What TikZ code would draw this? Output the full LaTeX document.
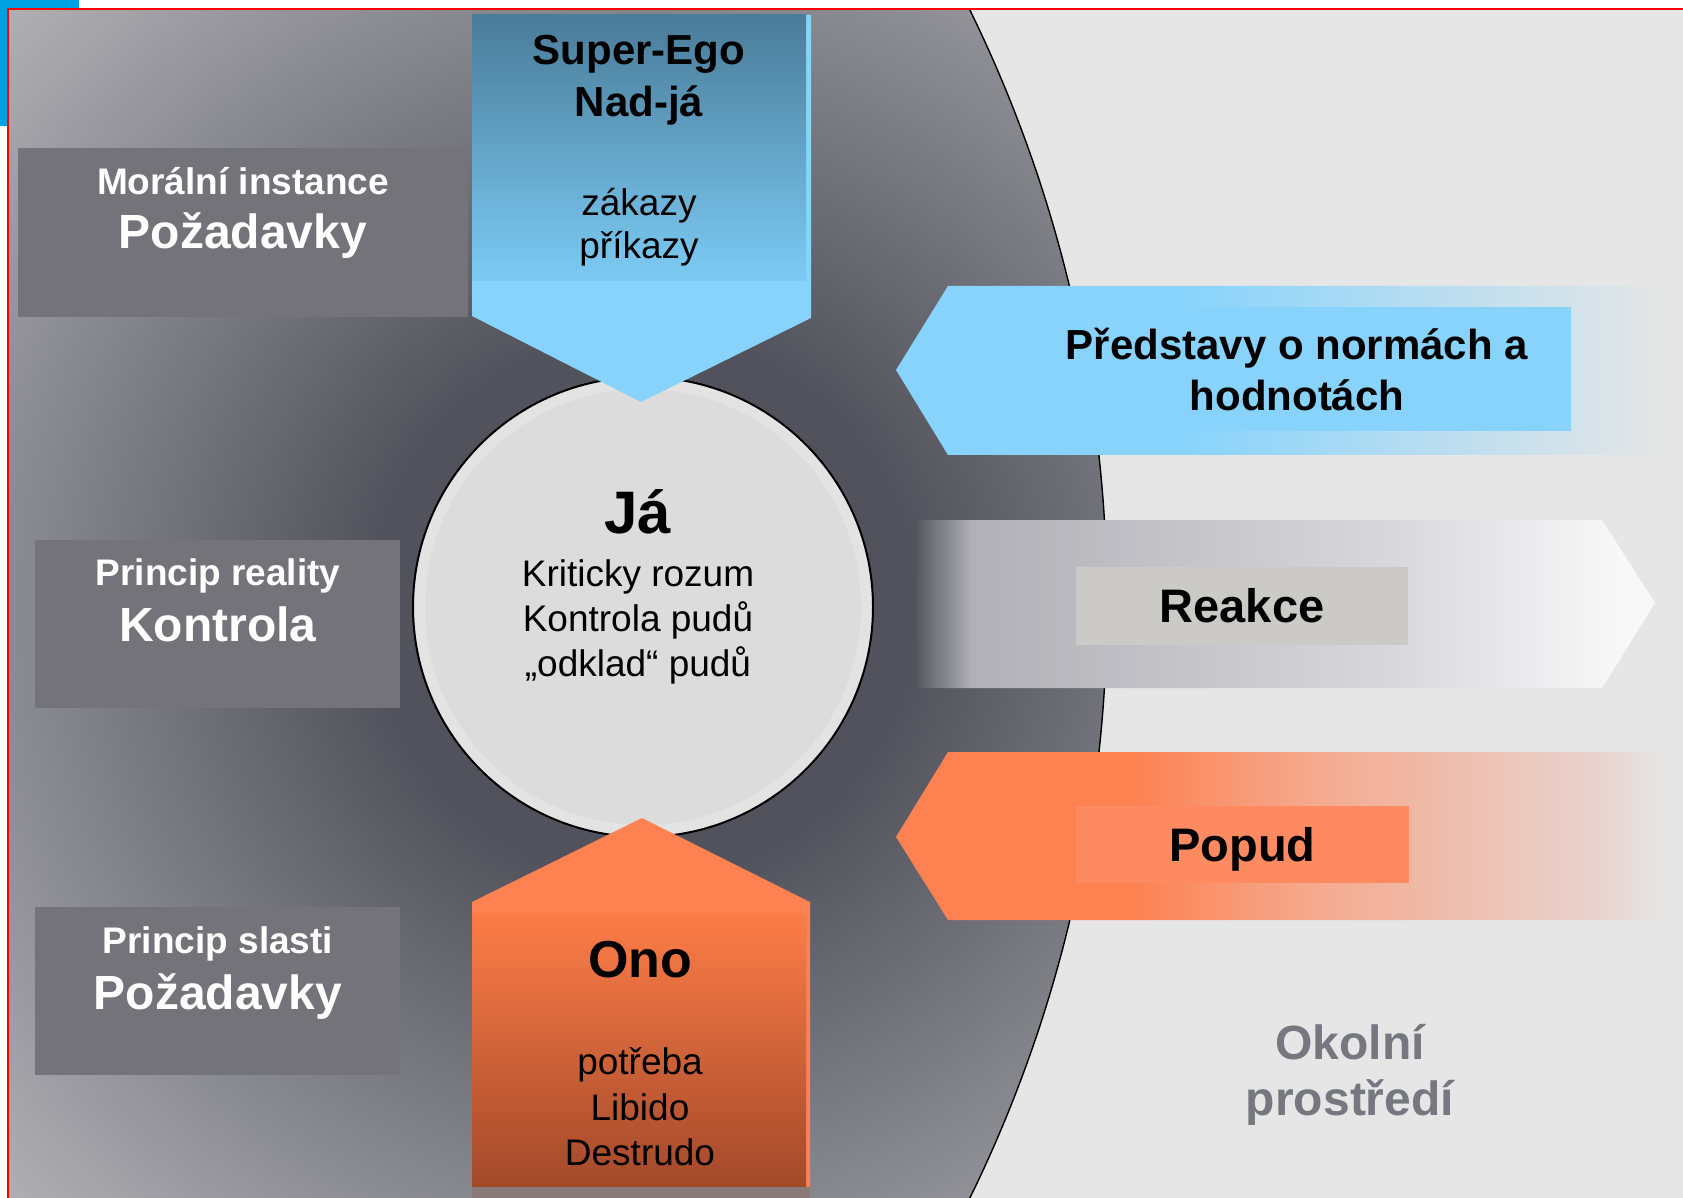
\documentclass[tikz,border=0pt]{standalone}
\usepackage{fontspec}
\setmainfont{Liberation Sans}
\usepackage{tikz}
\usetikzlibrary{positioning}
\definecolor{framered}{HTML}{FF0000}
\definecolor{logoblue}{HTML}{00A0E2}
\definecolor{envgray}{HTML}{E6E6E6}
\definecolor{egodark}{HTML}{52525C}
\definecolor{egolight}{HTML}{B4B4B8}
\definecolor{boxgray}{HTML}{737379}
\definecolor{skyblue}{HTML}{87D3FC}
\definecolor{superdark}{HTML}{4A7B98}
\definecolor{superlight}{HTML}{7CCBF4}
\definecolor{idorange}{HTML}{FD8151}
\definecolor{idtop}{HTML}{FD7D48}
\definecolor{idbottom}{HTML}{A2492A}
\definecolor{idshadow}{HTML}{8A7A7A}
\definecolor{reakcedark}{HTML}{585862}
\definecolor{reakcemid}{HTML}{B0B0B6}
\definecolor{reakcelight}{HTML}{D8D8DC}
\definecolor{reakcewhite}{HTML}{F8F8F8}
\definecolor{reakcebox}{HTML}{CBCAC6}
\definecolor{popudpale}{HTML}{F5A88C}
\definecolor{popudrose}{HTML}{E8D4D0}
\definecolor{popudbox}{HTML}{FE8A62}
\definecolor{jafill}{HTML}{DCDCDC}
\definecolor{jaring}{HTML}{E3E3E3}
\definecolor{envtext}{HTML}{77777F}
% shadings (bounding box of the path = 25bp..75bp)
\pgfdeclareradialshading{egoshade}{\pgfpoint{0bp}{0bp}}{color(0bp)=(egodark); color(7.5bp)=(egodark); color(25bp)=(egolight); color(50bp)=(egolight)}
\pgfdeclarehorizontalshading{normfade}{100bp}{color(0bp)=(skyblue); color(43bp)=(skyblue); color(74bp)=(envgray); color(100bp)=(envgray)}
\pgfdeclarehorizontalshading{reakcefade}{100bp}{color(0bp)=(reakcedark); color(25bp)=(reakcedark); color(28.7bp)=(reakcemid); color(57.2bp)=(reakcelight); color(72.6bp)=(reakcewhite); color(100bp)=(reakcewhite)}
\pgfdeclarehorizontalshading{popudfade}{100bp}{color(0bp)=(idorange); color(40bp)=(idorange); color(51bp)=(popudpale); color(70bp)=(popudrose); color(74bp)=(envgray); color(100bp)=(envgray)}
\begin{document}
\begin{tikzpicture}[x=0.5pt,y=0.5pt,every node/.style={inner sep=0pt,outer sep=0pt},
    panel/.style={fill=boxgray},
    paneltitle/.style={font=\fontsize{18.5}{22}\selectfont\bfseries,text=white,anchor=base},
    panelword/.style={font=\fontsize{24}{29}\selectfont\bfseries,text=white,anchor=base},
    plaintext/.style={font=\fontsize{18.5}{22.5}\selectfont,align=center}]
    \useasboundingbox (0,0) rectangle (1683,-1198);
    \fill[white] (0,0) rectangle (1683,-1198);
    \fill[logoblue] (0,0) rectangle (79,-126);
    \fill[envgray] (8,-9) rectangle (1683,-1198);
    % psyche
    \begin{scope}
      \clip (8,-9) rectangle (1683,-1198);
      \clip (-245,-604) circle (1352);
      \shade[shading=egoshade] (643,-607) circle (900);
    \end{scope}
    \begin{scope}
      \clip (8,-9) rectangle (1683,-1198);
      \draw[line width=0.7pt] (-245,-604) circle (1352);
    \end{scope}
    \draw[framered,line width=1pt] (8,-1198) -- (8,-9) -- (1683,-9);
    % left panels
    \node[panel,minimum width=225pt,minimum height=84.5pt] (moralbox) at (243,-232.5) {};
    \node[panel,minimum width=182.5pt,minimum height=84pt] (realbox) at (217.5,-624) {};
    \node[panel,minimum width=182.5pt,minimum height=84pt] (slastbox) at (217.5,-991) {};
    \node[paneltitle] (moraltitle) at (243,-195) {Morální instance};
    \node[panelword] (moralreq) at (243,-249) {Požadavky};
    \node[paneltitle] (realtitle) at (218,-585) {Princip reality};
    \node[panelword] (realctl) at (218,-641) {Kontrola};
    \node[paneltitle] (slasttitle) at (218,-953) {Princip slasti};
    \node[panelword] (slastreq) at (218,-1009) {Požadavky};
    % right arrows
    \shade[shading=normfade] (896,-370) -- (948,-286) -- (1683,-286) -- (1683,-455) -- (948,-455) -- cycle;
    \fill[skyblue] (1167,-307) rectangle (1571,-431);
    \node[font=\fontsize{21}{25.5}\selectfont\bfseries,align=center] (normy) at (1297,-370) {Představy o normách a\\hodnotách};
    \shade[shading=reakcefade] (917,-520) -- (1602,-520) -- (1655,-603) -- (1602,-688) -- (917,-688) -- cycle;
    \node[fill=reakcebox,minimum width=166pt,minimum height=39pt,font=\fontsize{23.5}{28}\selectfont\bfseries] (reakce) at (1242,-606) {Reakce};
    \shade[shading=popudfade] (896,-837) -- (948,-752) -- (1683,-752) -- (1683,-920) -- (948,-920) -- cycle;
    \node[fill=popudbox,minimum width=166.5pt,minimum height=38.5pt,text depth=0pt,font=\fontsize{23.5}{28}\selectfont\bfseries] (popud) at (1242.5,-844.5) {Popud};
    \node[font=\fontsize{24}{28}\selectfont\bfseries,text=envtext,align=center] (okoli) at (1350,-1075) {Okolní\\prostředí};
    % ego
    \node[circle,draw=black,line width=1pt,fill=jaring,minimum size=230pt] (ja) at (643,-607) {};
    \fill[jafill] (ja.center) circle (218);
    \node[font=\fontsize{30}{36}\selectfont\bfseries,anchor=base] (janame) at (638,-533) {Já};
    \node[plaintext] (jatasks) at (638,-621.5) {Kriticky rozum\\Kontrola pudů\\„odklad“ pudů};
    % super-ego and id
    \fill[skyblue] (472,-15) -- (811,-15) -- (811,-318) -- (641,-402) -- (472,-316) -- cycle;
    \shade[top color=superdark,bottom color=superlight] (472,-15) rectangle (806,-281);
    \node[font=\fontsize{21}{26}\selectfont\bfseries,align=center] (superego) at (639,-80) {Super-Ego\\Nad-já};
    \node[plaintext,font=\fontsize{18.5}{21.5}\selectfont] (zakazy) at (639,-227) {zákazy\\příkazy};
    \fill[idorange] (642,-818) -- (810,-902) -- (810,-1187) -- (472,-1187) -- (472,-902) -- cycle;
    \shade[top color=idtop,bottom color=idbottom] (472,-913) rectangle (806,-1187);
    \fill[idshadow] (472,-1187) rectangle (810,-1198);
    \node[font=\fontsize{26}{31}\selectfont\bfseries,anchor=base] (ono) at (640,-977) {Ono};
    \node[plaintext,font=\fontsize{18.5}{22.75}\selectfont] (potreba) at (640,-1107) {potřeba\\Libido\\Destrudo};
\end{tikzpicture}
\end{document}
